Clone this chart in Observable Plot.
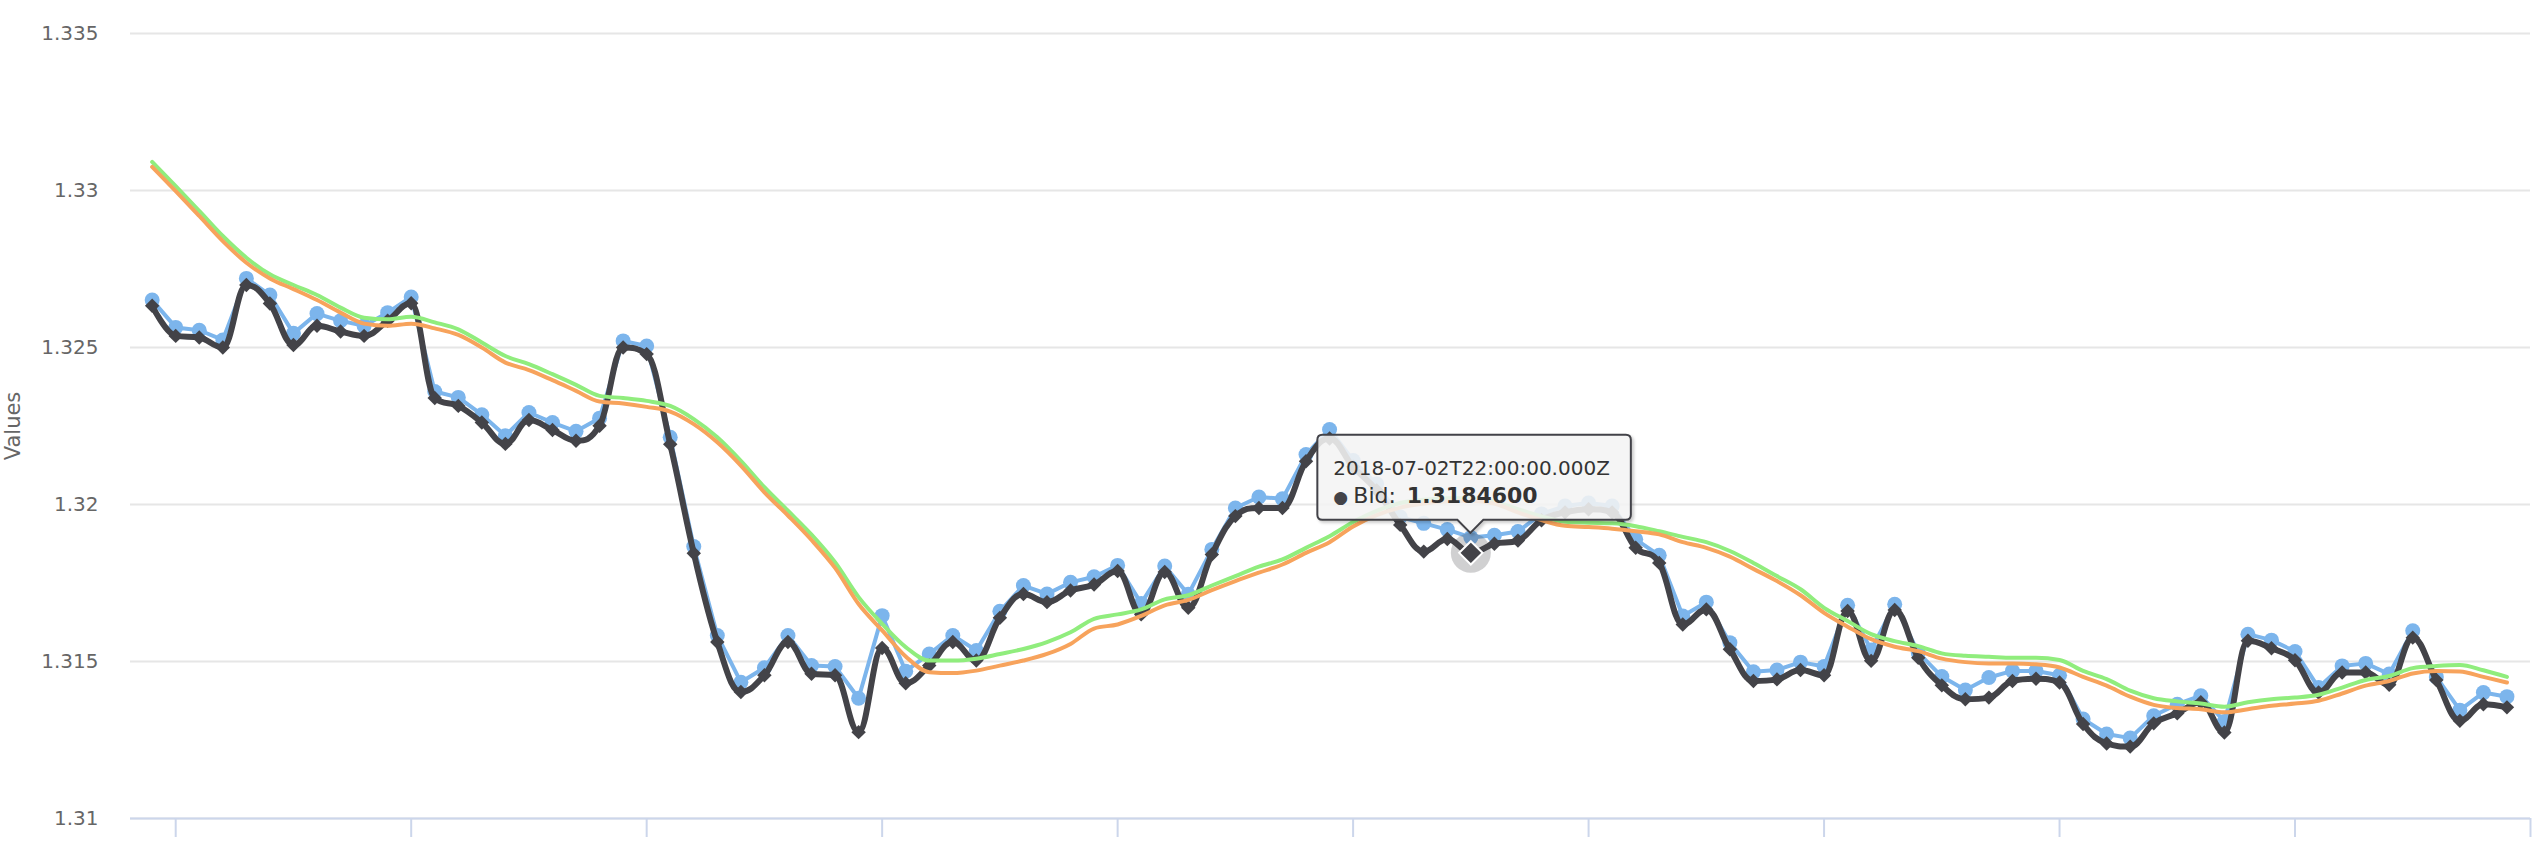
<!DOCTYPE html>
<html>
<head>
<meta charset="utf-8">
<script src="https://cdn.jsdelivr.net/npm/d3@7"></script>
<script src="https://cdn.jsdelivr.net/npm/@observablehq/plot@0.6"></script>
<style>
  html, body { margin: 0; padding: 0; background: #ffffff; }
  #chart { width: 2540px; height: 866px; overflow: hidden; }
</style>
</head>
<body>
<div id="chart"></div>
<script>
// ---- data (one value per point, index 0..100) ----
const ask = [
  1.32651, 1.32564, 1.32555, 1.32524, 1.32720, 1.32667, 1.32545, 1.32608, 1.32585, 1.32569,
  1.32611, 1.32661, 1.32360, 1.32341, 1.32286, 1.32219, 1.32293, 1.32261, 1.32233, 1.32275,
  1.32521, 1.32505, 1.32214, 1.31866, 1.31583, 1.31434, 1.31480, 1.31583, 1.31487, 1.31484,
  1.31383, 1.31646, 1.31469, 1.31524, 1.31583, 1.31535, 1.31660, 1.31742, 1.31715, 1.31752,
  1.31770, 1.31806, 1.31685, 1.31804, 1.31714, 1.31857, 1.31989, 1.32024, 1.32018, 1.32159,
  1.32239, 1.32140, 1.32065, 1.31960, 1.31940, 1.31920, 1.31895, 1.31902, 1.31914, 1.31970,
  1.31995, 1.32005, 1.31995, 1.31889, 1.31838, 1.31645, 1.31689, 1.31560, 1.31467, 1.31473,
  1.31498, 1.31484, 1.31679, 1.31537, 1.31682, 1.31528, 1.31452, 1.31409, 1.31449, 1.31470,
  1.31470, 1.31456, 1.31317, 1.31269, 1.31256, 1.31327, 1.31364, 1.31391, 1.31309, 1.31587,
  1.31568, 1.31532, 1.31417, 1.31486, 1.31494, 1.31460, 1.31598, 1.31451, 1.31345, 1.31401,
  1.31388
];
const bid = [
  1.32633, 1.32537, 1.32532, 1.32500, 1.32699, 1.32640, 1.32508, 1.32569, 1.32551, 1.32537,
  1.32585, 1.32641, 1.32339, 1.32314, 1.32261, 1.32193, 1.32269, 1.32237, 1.32203, 1.32251,
  1.32500, 1.32479, 1.32192, 1.31845, 1.31562, 1.31403, 1.31456, 1.31562, 1.31461, 1.31456,
  1.31275, 1.31543, 1.31431, 1.31487, 1.31562, 1.31503, 1.31639, 1.31715, 1.31689, 1.31726,
  1.31745, 1.31788, 1.31650, 1.31785, 1.31671, 1.31841, 1.31963, 1.31989, 1.31989, 1.32138,
  1.32210, 1.32120, 1.32045, 1.31935, 1.31850, 1.31890, 1.31846, 1.31875, 1.31885, 1.31950,
  1.31975, 1.31985, 1.31975, 1.31862, 1.31814, 1.31618, 1.31666, 1.31539, 1.31438, 1.31443,
  1.31473, 1.31456, 1.31661, 1.31502, 1.31664, 1.31512, 1.31424, 1.31380, 1.31385, 1.31438,
  1.31445, 1.31433, 1.31301, 1.31239, 1.31229, 1.31303, 1.31335, 1.31370, 1.31274, 1.31566,
  1.31542, 1.31504, 1.31401, 1.31465, 1.31465, 1.31426, 1.31576, 1.31441, 1.31311, 1.31364,
  1.31354
];
const avgGreen = [
  1.33091, 1.33014, 1.32935, 1.32855, 1.32786, 1.32733, 1.32699, 1.32667, 1.32627, 1.32595,
  1.32590, 1.32598, 1.32580, 1.32558, 1.32516, 1.32473, 1.32447, 1.32415, 1.32381, 1.32346,
  1.32339, 1.32330, 1.32314, 1.32272, 1.32214, 1.32139, 1.32055, 1.31980, 1.31904, 1.31816,
  1.31705, 1.31620, 1.31546, 1.31503, 1.31503, 1.31509, 1.31524, 1.31540, 1.31562, 1.31593,
  1.31636, 1.31650, 1.31666, 1.31698, 1.31711, 1.31742, 1.31772, 1.31802, 1.31825, 1.31862,
  1.31899, 1.31944, 1.31980, 1.32005, 1.32015, 1.32020, 1.32020, 1.32010, 1.31985, 1.31962,
  1.31945, 1.31942, 1.31940, 1.31931, 1.31915, 1.31897, 1.31880, 1.31852, 1.31814, 1.31772,
  1.31730, 1.31671, 1.31629, 1.31587, 1.31565, 1.31549, 1.31526, 1.31518, 1.31515, 1.31512,
  1.31512, 1.31505, 1.31470, 1.31444, 1.31407, 1.31383, 1.31373, 1.31366, 1.31356, 1.31370,
  1.31380, 1.31385, 1.31394, 1.31417, 1.31441, 1.31454, 1.31479, 1.31486, 1.31489, 1.31472,
  1.31451
];
const avgOrange = [
  1.33075, 1.32998, 1.32919, 1.32839, 1.32770, 1.32720, 1.32686, 1.32651, 1.32611, 1.32576,
  1.32569, 1.32576, 1.32561, 1.32540, 1.32500, 1.32452, 1.32428, 1.32396, 1.32362, 1.32328,
  1.32322, 1.32311, 1.32296, 1.32256, 1.32198, 1.32124, 1.32039, 1.31965, 1.31887, 1.31798,
  1.31683, 1.31599, 1.31516, 1.31466, 1.31463, 1.31471, 1.31487, 1.31503, 1.31524, 1.31556,
  1.31605, 1.31618, 1.31645, 1.31679, 1.31696, 1.31727, 1.31756, 1.31783, 1.31809, 1.31846,
  1.31880, 1.31930, 1.31966, 1.31990, 1.32003, 1.32010, 1.32012, 1.32003, 1.31975, 1.31950,
  1.31932, 1.31928, 1.31923, 1.31915, 1.31905, 1.31880, 1.31862, 1.31834, 1.31795, 1.31756,
  1.31711, 1.31655, 1.31611, 1.31571, 1.31547, 1.31533, 1.31509, 1.31498, 1.31494, 1.31494,
  1.31491, 1.31481, 1.31451, 1.31423, 1.31388, 1.31362, 1.31352, 1.31348, 1.31338, 1.31348,
  1.31359, 1.31366, 1.31375, 1.31398, 1.31423, 1.31438, 1.31462, 1.31470, 1.31468, 1.31451,
  1.31433
];
const yTicks = [1.31, 1.315, 1.32, 1.325, 1.33, 1.335];
const yTickLabels = ["1.31", "1.315", "1.32", "1.325", "1.33", "1.335"];
const xTicks = [1, 11, 21, 31, 41, 51, 61, 71, 81, 91, 101];
const xTickLabels = ["", "", "", "", "", "", "", "", "", "", ""];
const yTitle = "Values";
const hoverIndex = 56;
const tooltipHeader = "2018-07-02T22:00:00.000Z";
const hoverSeriesName = "Bid";

// ---- table built from the arrays ----
const rows = ask.map((a, i) => ({i, ask: a, bid: bid[i], green: avgGreen[i], orange: avgOrange[i]}));

// Highcharts-like spline (smoothing 1.5, no false extremes)
function hcSpline(context) {
  let pts = [];
  return {
    areaStart() {}, areaEnd() {},
    lineStart() { pts = []; },
    point(x, y) { pts.push([+x, +y]); },
    lineEnd() {
      const n = pts.length;
      if (!n) return;
      const L = [], R = [];
      const s = 1.5, den = s + 1;
      for (let k = 0; k < n; k++) {
        const [x, y] = pts[k];
        if (k === 0 || k === n - 1) { L[k] = [x, y]; R[k] = [x, y]; continue; }
        const [lx, ly] = pts[k - 1], [nx, ny] = pts[k + 1];
        let lcx = (s * x + lx) / den, lcy = (s * y + ly) / den;
        let rcx = (s * x + nx) / den, rcy = (s * y + ny) / den;
        let c = 0;
        if (rcx !== lcx) c = ((rcy - lcy) * (rcx - x)) / (rcx - lcx) + y - rcy;
        lcy += c; rcy += c;
        if (lcy > ly && lcy > y) { lcy = Math.max(ly, y); rcy = 2 * y - lcy; }
        else if (lcy < ly && lcy < y) { lcy = Math.min(ly, y); rcy = 2 * y - lcy; }
        if (rcy > ny && rcy > y) { rcy = Math.max(ny, y); lcy = 2 * y - rcy; }
        else if (rcy < ny && rcy < y) { rcy = Math.min(ny, y); lcy = 2 * y - rcy; }
        L[k] = [lcx, lcy]; R[k] = [rcx, rcy];
      }
      context.moveTo(pts[0][0], pts[0][1]);
      for (let k = 1; k < n; k++) {
        context.bezierCurveTo(R[k - 1][0], R[k - 1][1], L[k][0], L[k][1], pts[k][0], pts[k][1]);
      }
    }
  };
}

// tooltip drawn at the hovered point's scaled position
function tooltipRender(index, scales, values) {
  const k = index[0];
  const d = rows[hoverIndex];
  const px = values && values.x ? values.x[k] : scales.x(d.i);
  const py = values && values.y ? values.y[k] : scales.y(d.bid);
  const g = d3.create("svg:g").attr("transform", `translate(${px},${py})`)
    .attr("text-anchor", "start");
  const defs = g.append("defs");
  const f = defs.append("filter").attr("id", "tipShadow").attr("x", "-10%").attr("y", "-10%").attr("width", "130%").attr("height", "140%");
  f.append("feDropShadow").attr("dx", 2).attr("dy", 2).attr("stdDeviation", 1.6)
    .attr("flood-color", "#000").attr("flood-opacity", 0.22);
  const Lx = -153, Rx = 160.5, T = -117.5, B = -32.5, r = 5, pw = 13, apex = -19.5;
  const path = `M${Lx + r},${T} H${Rx - r} Q${Rx},${T} ${Rx},${T + r} V${B - r} Q${Rx},${B} ${Rx - r},${B}` +
    ` H${pw} L0,${apex} L${-pw},${B} H${Lx + r} Q${Lx},${B} ${Lx},${B - r} V${T + r} Q${Lx},${T} ${Lx + r},${T} Z`;
  g.append("path").attr("d", path)
    .attr("fill", "rgba(247,247,247,0.85)")
    .attr("stroke", "#434348").attr("stroke-width", 2)
    .attr("filter", "url(#tipShadow)");
  g.append("text").attr("x", -137).attr("y", -77.5).attr("text-anchor", "start")
    .attr("font-family", "DejaVu Sans").attr("font-size", 20).attr("fill", "#333333")
    .text(tooltipHeader);
  const t2 = g.append("text").attr("y", -49).attr("text-anchor", "start")
    .attr("font-family", "DejaVu Sans").attr("font-size", 22).attr("fill", "#333333");
  t2.append("tspan").attr("x", -137).attr("font-size", 17).attr("fill", "#434348").text("\u25CF");
  t2.append("tspan").attr("x", -117).text(hoverSeriesName + ":");
  t2.append("tspan").attr("x", -63.5).attr("font-weight", "bold").text(d.bid.toFixed(7));
  return g.node();
}

const hover = [rows[hoverIndex]];

const chart = Plot.plot({
  width: 2540,
  height: 866,
  marginLeft: 130,
  marginRight: 10,
  marginTop: 33,
  marginBottom: 48,
  style: {fontFamily: "DejaVu Sans", background: "#ffffff", overflow: "visible"},
  x: {domain: [-0.92, 101], axis: null},
  y: {domain: [1.31, 1.335], axis: null},
  marks: [
    Plot.gridY(yTicks, {stroke: "#e6e6e6", strokeOpacity: 1, strokeWidth: 2}),
    Plot.ruleY([1.31], {stroke: "#ccd6eb", strokeWidth: 2}),
    Plot.axisX(xTicks, {
      tickSize: 19, stroke: "#ccd6eb", strokeWidth: 2, strokeOpacity: 1,
      tickFormat: v => xTickLabels[xTicks.indexOf(v)], label: null
    }),
    Plot.axisY(yTicks, {
      tickSize: 0, tickPadding: 32, fontSize: 20, fill: "#666666",
      tickFormat: v => yTickLabels[yTicks.indexOf(v)], label: null
    }),
    Plot.text([yTitle], {frameAnchor: "left", dx: -117, rotate: -90, textAnchor: "middle", fontSize: 21, fill: "#666666"}),
    Plot.line(rows, {x: "i", y: "ask", stroke: "#7cb5ec", strokeWidth: 4}),
    Plot.dot(rows, {x: "i", y: "ask", r: 7.5, fill: "#7cb5ec"}),
    Plot.line(rows, {x: "i", y: "bid", stroke: "#434348", strokeWidth: 6, curve: hcSpline}),
    Plot.dot(rows, {x: "i", y: "bid", symbol: "diamond2", r: 6.5, fill: "#434348"}),
    Plot.line(rows, {x: "i", y: "green", stroke: "#90ed7d", strokeWidth: 4, curve: "monotone-x"}),
    Plot.line(rows, {x: "i", y: "orange", stroke: "#f7a35c", strokeWidth: 4, curve: "monotone-x"}),
    Plot.dot(hover, {x: "i", y: "bid", r: 20, fill: "#434348", fillOpacity: 0.25}),
    Plot.dot(hover, {x: "i", y: "bid", symbol: "diamond2", r: 10.5, fill: "#434348", stroke: "#ffffff", strokeWidth: 2}),
    Plot.dot(hover, {x: "i", y: "bid", render: tooltipRender})
  ]
});
document.getElementById("chart").appendChild(chart);
</script>
</body>
</html>
